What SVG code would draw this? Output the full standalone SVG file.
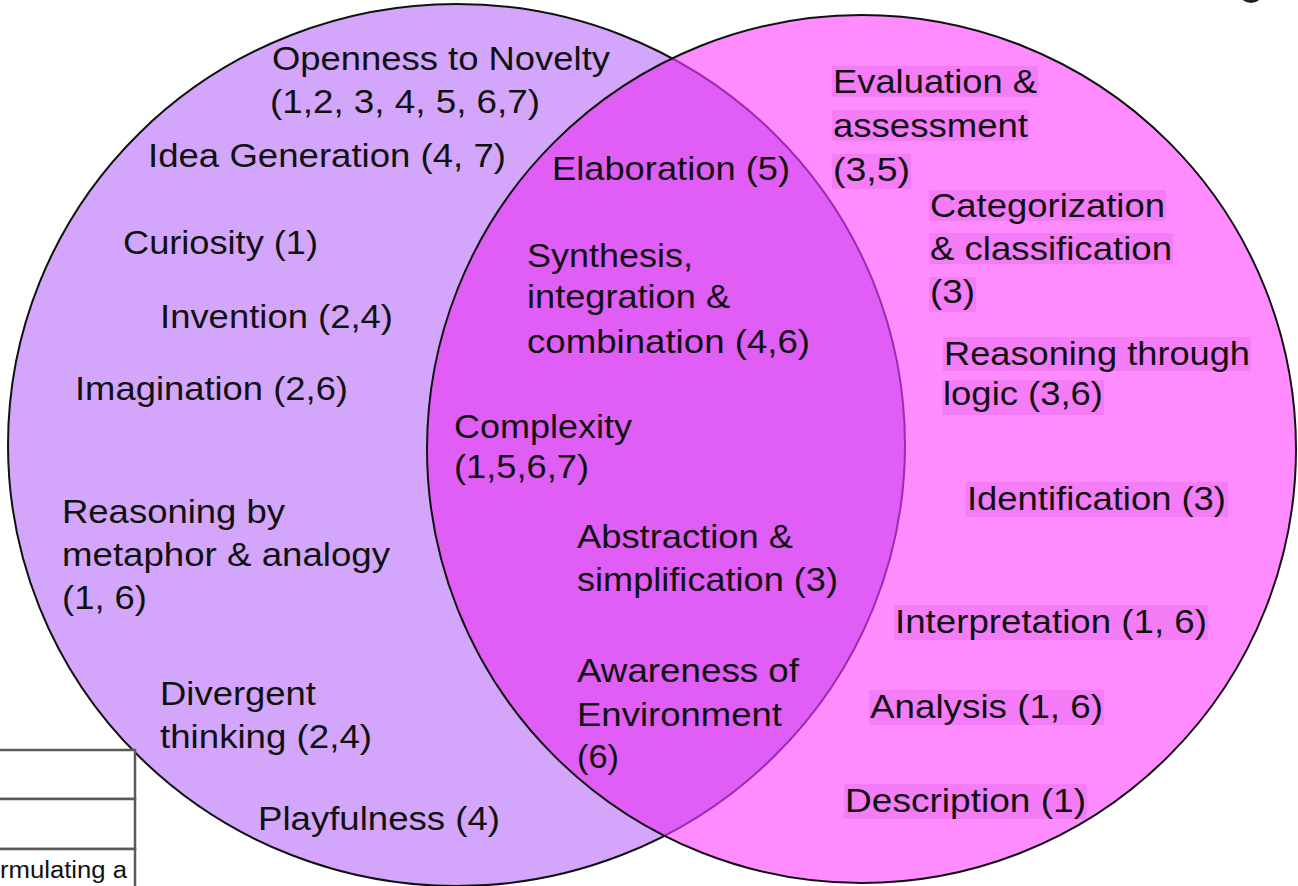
<svg xmlns="http://www.w3.org/2000/svg" width="1298" height="886" viewBox="0 0 1298 886">
<style>
text{font-family:"Liberation Sans",Arial,sans-serif;font-size:33px;fill:#111;}
.hl{fill:#f57cf7;}
.tbl{fill:#fff;stroke:#5a5a5a;stroke-width:2.5;}
.small{font-size:23px;}
</style>
<defs>
<clipPath id="clipL"><ellipse cx="456.5" cy="445" rx="448.5" ry="441"/></clipPath>
<clipPath id="clipR"><ellipse cx="861.5" cy="449" rx="434.5" ry="434"/></clipPath>
</defs>
<rect width="1298" height="886" fill="#fff"/>
<g id="circles">
<ellipse id="left-circle" cx="456.5" cy="445" rx="448.5" ry="441" fill="#d3a6fb" stroke="#111" stroke-width="2"/>
<ellipse id="right-circle" cx="861.5" cy="449" rx="434.5" ry="434" fill="#ff8cfe"/>
<ellipse id="lens" cx="861.5" cy="449" rx="434.5" ry="434" fill="#e05df6" clip-path="url(#clipL)"/>
<ellipse cx="456.5" cy="445" rx="448.5" ry="441" fill="none" stroke="#9a2cb4" stroke-width="2" clip-path="url(#clipR)"/>
<ellipse cx="861.5" cy="449" rx="434.5" ry="434" fill="none" stroke="#111" stroke-width="2"/>
</g>
<ellipse cx="1251" cy="-8" rx="12" ry="11" fill="#222"/>
<g id="table">
<rect class="tbl" x="-5" y="750" width="140" height="49"/>
<rect class="tbl" x="-5" y="799" width="140" height="50"/>
<rect class="tbl" x="-5" y="849" width="140" height="45"/>
<text class="small" x="0" y="878" textLength="127" lengthAdjust="spacingAndGlyphs">rmulating a</text>
</g>
<g id="left-items">
<text x="272" y="70" textLength="338" lengthAdjust="spacingAndGlyphs">Openness to Novelty</text>
<text x="270" y="113" textLength="270" lengthAdjust="spacingAndGlyphs">(1,2, 3, 4, 5, 6,7)</text>
<text x="148" y="167" textLength="358" lengthAdjust="spacingAndGlyphs">Idea Generation (4, 7)</text>
<text x="123" y="254" textLength="195" lengthAdjust="spacingAndGlyphs">Curiosity (1)</text>
<text x="160" y="328" textLength="233" lengthAdjust="spacingAndGlyphs">Invention (2,4)</text>
<text x="75" y="400" textLength="273" lengthAdjust="spacingAndGlyphs">Imagination (2,6)</text>
<text x="62" y="523" textLength="223" lengthAdjust="spacingAndGlyphs">Reasoning by</text>
<text x="62" y="566" textLength="328" lengthAdjust="spacingAndGlyphs">metaphor &amp; analogy</text>
<text x="62" y="609" textLength="85" lengthAdjust="spacingAndGlyphs">(1, 6)</text>
<text x="160" y="705" textLength="156" lengthAdjust="spacingAndGlyphs">Divergent</text>
<text x="160" y="748" textLength="212" lengthAdjust="spacingAndGlyphs">thinking (2,4)</text>
<text x="258" y="830" textLength="242" lengthAdjust="spacingAndGlyphs">Playfulness (4)</text>
</g>
<g id="shared-items">
<text x="552" y="180" textLength="238" lengthAdjust="spacingAndGlyphs">Elaboration (5)</text>
<text x="527" y="267" textLength="166" lengthAdjust="spacingAndGlyphs">Synthesis,</text>
<text x="527" y="308" textLength="203" lengthAdjust="spacingAndGlyphs">integration &amp;</text>
<text x="527" y="353" textLength="283" lengthAdjust="spacingAndGlyphs">combination (4,6)</text>
<text x="454" y="438" textLength="178" lengthAdjust="spacingAndGlyphs">Complexity</text>
<text x="454" y="478" textLength="135" lengthAdjust="spacingAndGlyphs">(1,5,6,7)</text>
<text x="577" y="548" textLength="216" lengthAdjust="spacingAndGlyphs">Abstraction &amp;</text>
<text x="577" y="591" textLength="261" lengthAdjust="spacingAndGlyphs">simplification (3)</text>
<text x="577" y="682" textLength="222" lengthAdjust="spacingAndGlyphs">Awareness of</text>
<text x="577" y="726" textLength="205" lengthAdjust="spacingAndGlyphs">Environment</text>
<text x="577" y="768" textLength="42" lengthAdjust="spacingAndGlyphs">(6)</text>
</g>
<g id="right-items">
<rect class="hl" x="832" y="66" width="206" height="31"/>
<rect class="hl" x="832" y="110" width="197" height="31"/>
<rect class="hl" x="832" y="154" width="79" height="35"/>
<rect class="hl" x="929" y="190" width="237" height="31"/>
<rect class="hl" x="929" y="233" width="244" height="31"/>
<rect class="hl" x="929" y="277" width="47" height="35"/>
<rect class="hl" x="943" y="337" width="308" height="34"/>
<rect class="hl" x="942" y="380" width="162" height="35"/>
<rect class="hl" x="966" y="482" width="262" height="35"/>
<rect class="hl" x="894" y="605" width="314" height="35"/>
<rect class="hl" x="869" y="690" width="235" height="35"/>
<rect class="hl" x="844" y="784" width="243" height="35"/>
<text x="833" y="93" textLength="204" lengthAdjust="spacingAndGlyphs">Evaluation &amp;</text>
<text x="833" y="137" textLength="195" lengthAdjust="spacingAndGlyphs">assessment</text>
<text x="833" y="181" textLength="77" lengthAdjust="spacingAndGlyphs">(3,5)</text>
<text x="930" y="217" textLength="235" lengthAdjust="spacingAndGlyphs">Categorization</text>
<text x="930" y="260" textLength="242" lengthAdjust="spacingAndGlyphs">&amp; classification</text>
<text x="930" y="303" textLength="45" lengthAdjust="spacingAndGlyphs">(3)</text>
<text x="944" y="365" textLength="306" lengthAdjust="spacingAndGlyphs">Reasoning through</text>
<text x="943" y="405" textLength="160" lengthAdjust="spacingAndGlyphs">logic (3,6)</text>
<text x="967" y="510" textLength="259" lengthAdjust="spacingAndGlyphs">Identification (3)</text>
<text x="895" y="633" textLength="312" lengthAdjust="spacingAndGlyphs">Interpretation (1, 6)</text>
<text x="870" y="718" textLength="233" lengthAdjust="spacingAndGlyphs">Analysis (1, 6)</text>
<text x="845" y="812" textLength="241" lengthAdjust="spacingAndGlyphs">Description (1)</text>
</g>
</svg>
